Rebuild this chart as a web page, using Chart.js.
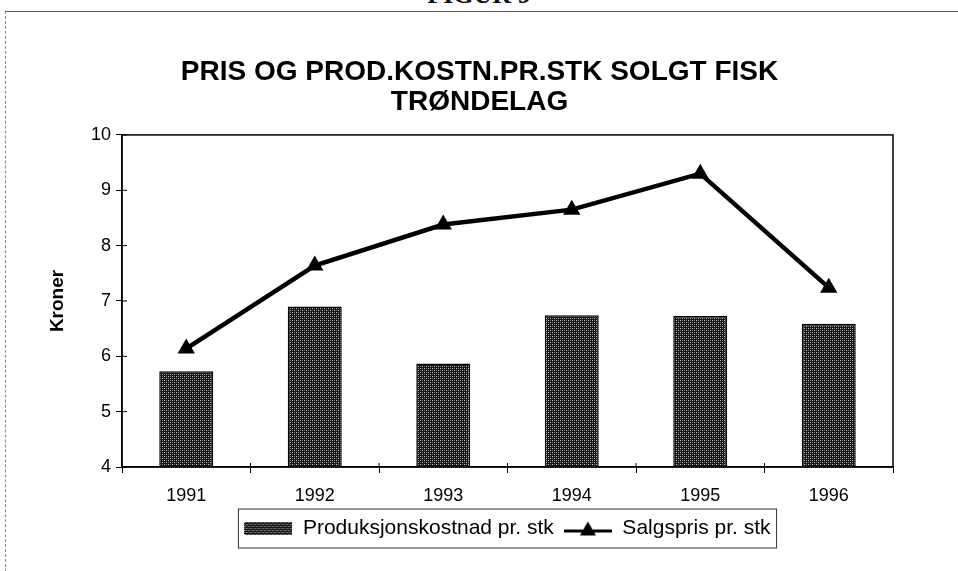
<!DOCTYPE html>
<html>
<head>
<meta charset="utf-8">
<script src="https://cdn.jsdelivr.net/npm/chart.js@4"></script>
<style>
  body { margin: 0; background: #fff; overflow: hidden; }
  #wrap { position: relative; width: 958px; height: 571px; }
  #frame { position: absolute; left: 5px; top: 11px; width: 960px; height: 570px;
           border-top: 1px solid #555; border-left: 1px dashed #888; }
  #figur { position: absolute; left: 0; width: 958px; top: -20px; text-align: center;
           font: bold 26px "Liberation Serif", serif; color: #111; }
  canvas { position: absolute; left: 0; top: 0; }
</style>
</head>
<body>
<div id="wrap">
  <div id="figur">FIGUR 9</div>
  <div id="frame"></div>
  <canvas id="grafico" width="958" height="571"></canvas>
</div>
<script>
var years = ['1991', '1992', '1993', '1994', '1995', '1996'];
var prodKostnad = [5.73, 6.90, 5.87, 6.74, 6.73, 6.59];
var salgspris = [6.14, 7.64, 8.38, 8.65, 9.30, 7.24];
var yTicks = [4, 5, 6, 7, 8, 9, 10];

// dotted fill like the old print screen
var tile = document.createElement('canvas');
tile.width = 4; tile.height = 4;
var t = tile.getContext('2d');
t.fillStyle = '#161616';
t.fillRect(0, 0, 4, 4);
t.fillStyle = '#c8c8c8';
t.fillRect(0, 0, 1, 1);
t.fillRect(2, 2, 1, 1);
t.fillStyle = '#6e6e6e';
t.fillRect(2, 0, 1, 1);
t.fillRect(0, 2, 1, 1);
var pattern = t.createPattern(tile, 'repeat');

// legend icons
var barIcon = document.createElement('canvas');
barIcon.width = 48; barIcon.height = 13;
var b = barIcon.getContext('2d');
b.fillStyle = b.createPattern(tile, 'repeat');
b.fillRect(0, 0, 48, 13);

var lineIcon = document.createElement('canvas');
lineIcon.width = 48; lineIcon.height = 16;
var l = lineIcon.getContext('2d');
l.fillStyle = '#000';
l.fillRect(0, 9, 48, 3);
l.beginPath();
l.moveTo(24, 1); l.lineTo(32, 15); l.lineTo(16, 15); l.closePath();
l.fill();

var boxPlugin = {
    id: 'boxes',
    afterDraw: function (chart) {
        var ctx = chart.ctx;
        var a = chart.chartArea;
        ctx.save();
        ctx.strokeStyle = '#000';
        ctx.lineWidth = 1.5;
        ctx.strokeRect(a.left, a.top, a.right - a.left, a.bottom - a.top);
        // small inner tick marks
        ctx.lineWidth = 1;
        var ys = chart.scales.y;
        ys.ticks.forEach(function (tk) {
            var py = ys.getPixelForValue(tk.value);
            ctx.beginPath();
            ctx.moveTo(a.left, py);
            ctx.lineTo(a.left + 5, py);
            ctx.stroke();
        });
        var xs = chart.scales.x;
        for (var i = 1; i < years.length; i++) {
            var px = (xs.getPixelForValue(i - 1) + xs.getPixelForValue(i)) / 2;
            ctx.beginPath();
            ctx.moveTo(px, a.bottom);
            ctx.lineTo(px, a.bottom - 4);
            ctx.stroke();
        }
        var hb = chart.legend.legendHitBoxes;
        if (hb && hb.length) {
            var x0 = hb[0].left - 6;
            var last = hb[hb.length - 1];
            var x1 = last.left + last.width + 6;
            var y0 = hb[0].top - 9;
            var y1 = hb[0].top + hb[0].height + 9;
            ctx.lineWidth = 1;
            ctx.strokeStyle = '#333';
            ctx.strokeRect(x0, y0, x1 - x0, y1 - y0);
        }
        ctx.restore();
    }
};

var ctx = document.getElementById('grafico');
var myChart = new Chart(ctx, {
    data: {
        labels: years,
        datasets: [{
            type: 'line',
            label: 'Salgspris pr. stk',
            data: salgspris,
            borderColor: '#000',
            backgroundColor: '#000',
            borderWidth: 4.5,
            pointStyle: 'triangle',
            pointRadius: 10,
            pointBackgroundColor: '#000',
            pointBorderWidth: 0,
            tension: 0,
            order: 1
        }, {
            type: 'bar',
            label: 'Produksjonskostnad pr. stk',
            data: prodKostnad,
            backgroundColor: pattern,
            borderColor: '#000',
            borderWidth: 1.5,
            barPercentage: 0.42,
            categoryPercentage: 1,
            order: 2
        }]
    },
    plugins: [boxPlugin],
    options: {
        responsive: false,
        animation: false,
        layout: { padding: { left: 66, right: 65, top: 0, bottom: 22 } },
        plugins: {
            title: {
                display: true,
                text: ['PRIS OG PROD.KOSTN.PR.STK SOLGT FISK', 'TRØNDELAG'],
                color: '#000',
                font: { family: 'Liberation Sans', size: 28, weight: 'bold', lineHeight: 1.07 },
                padding: { top: 57, bottom: 18 }
            },
            legend: {
                position: 'bottom',
                fullSize: false,
                labels: {
                    color: '#000',
                    font: { family: 'Liberation Sans', size: 21 },
                    usePointStyle: true,
                    pointStyleWidth: 48,
                    padding: 10,
                    generateLabels: function () {
                        return [
                            { text: 'Produksjonskostnad pr. stk', pointStyle: barIcon, lineWidth: 0, fillStyle: pattern, strokeStyle: '#000', hidden: false, datasetIndex: 1 },
                            { text: 'Salgspris pr. stk', pointStyle: lineIcon, lineWidth: 0, fillStyle: '#000', strokeStyle: '#000', hidden: false, datasetIndex: 0 }
                        ];
                    }
                }
            },
            tooltip: { enabled: false }
        },
        scales: {
            x: {
                offset: true,
                afterFit: function (axis) {
                    axis.height = 41;
                },
                grid: { display: true, offset: true, drawOnChartArea: false, tickLength: 6, color: '#000', lineWidth: 1 },
                border: { display: true, color: '#000', width: 1.5 },
                ticks: { color: '#000', font: { family: 'Liberation Sans', size: 18 }, padding: 12 }
            },
            y: {
                min: 4,
                max: 10,
                afterBuildTicks: function (axis) {
                    axis.ticks = yTicks.map(function (v) { return { value: v }; });
                },
                afterFit: function (axis) {
                    axis.width = 56;
                },
                grid: { display: true, drawOnChartArea: false, tickLength: 6, color: '#000', lineWidth: 1 },
                border: { display: true, color: '#000', width: 1.5 },
                ticks: { color: '#000', font: { family: 'Liberation Sans', size: 18 }, padding: 5 },
                title: {
                    display: true,
                    text: 'Kroner',
                    color: '#000',
                    font: { family: 'Liberation Sans', size: 19, weight: 'bold' },
                    padding: { top: -20, bottom: 0 }
                }
            }
        }
    }
});
</script>
</body>
</html>
